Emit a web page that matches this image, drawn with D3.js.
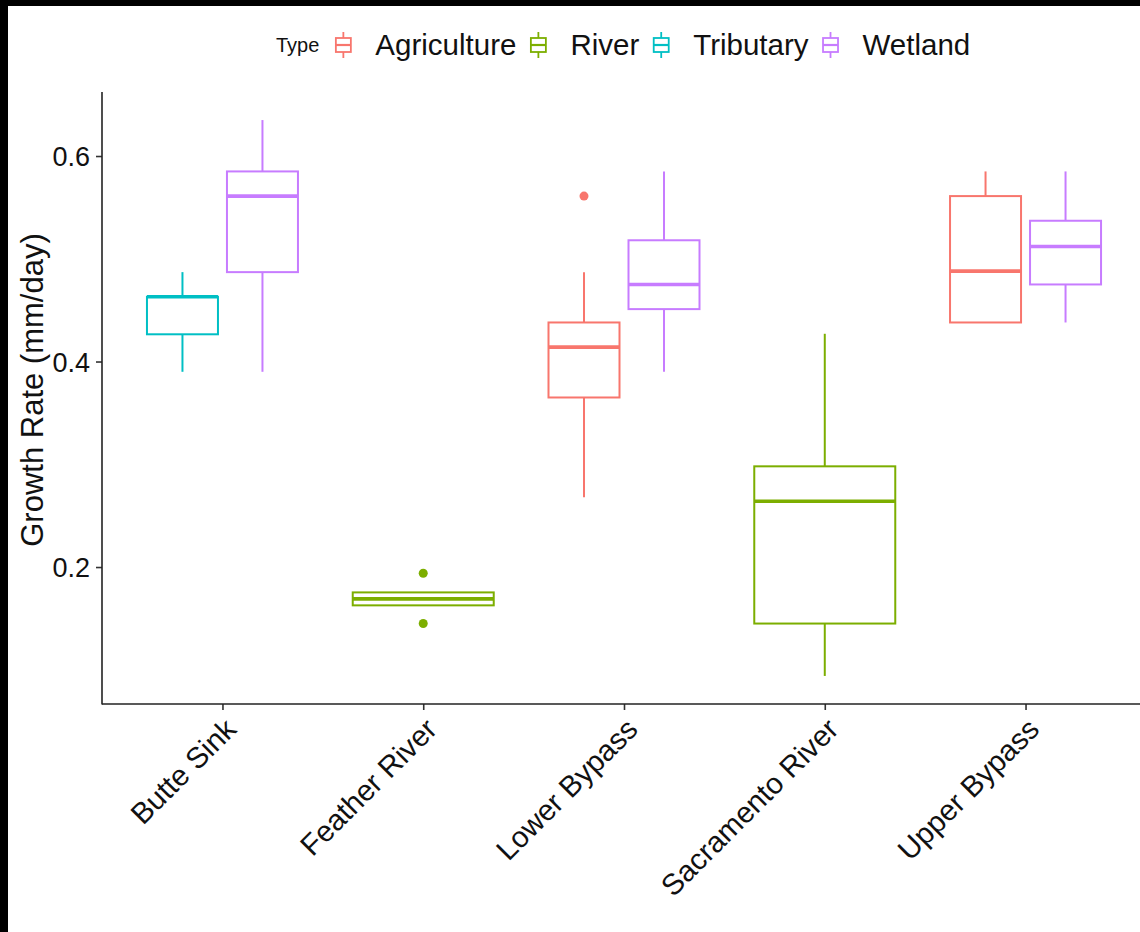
<!DOCTYPE html>
<html><head><meta charset="utf-8">
<script src="https://cdn.jsdelivr.net/npm/d3@7"></script>
<style>html,body{margin:0;padding:0;background:#fff;} svg{display:block;} text{font-family:"Liberation Sans",Arial,sans-serif;}</style>
</head><body>
<script>
// ---- data ----
const sites = ["Butte Sink","Feather River","Lower Bypass","Sacramento River","Upper Bypass"];
const types = ["Agriculture","River","Tributary","Wetland"];
const typeColors = ["#F8766D","#7CAE00","#00BFC4","#C77CFF"];
const yTicks = [0.2,0.4,0.6];

const boxSite  = ["Butte Sink","Butte Sink","Feather River","Lower Bypass","Lower Bypass","Sacramento River","Upper Bypass","Upper Bypass"];
const boxType  = ["Tributary","Wetland","River","Agriculture","Wetland","River","Agriculture","Wetland"];
const whiskLo  = [0.390,0.390,0.1627,0.268,0.390,0.094,0.438,0.438];
const q1       = [0.4265,0.487,0.1627,0.365,0.451,0.145,0.438,0.475];
const medianV  = [0.463,0.561,0.169,0.414,0.475,0.264,0.488,0.512];
const q3       = [0.463,0.585,0.1753,0.438,0.518,0.298,0.561,0.537];
const whiskHi  = [0.487,0.635,0.1753,0.487,0.585,0.427,0.585,0.585];
const outSite  = ["Feather River","Feather River","Lower Bypass"];
const outType  = ["River","River","Agriculture"];
const outVal   = [0.194,0.145,0.561];

// ---- layout ----
const W = 1140, H = 932;
const svg = d3.select("body").append("svg").attr("width",W).attr("height",H);
svg.append("rect").attr("width",W).attr("height",H).attr("fill","#fff");
// black frame strips from the reference image
svg.append("rect").attr("x",0).attr("y",0).attr("width",W).attr("height",6).attr("fill","#000");
svg.append("rect").attr("x",0).attr("y",0).attr("width",8).attr("height",H).attr("fill","#000");

const pLeft = 102, pBottom = 704, pTop = 92;
const x = d3.scalePoint().domain(sites).range([pLeft, 1146]).padding(0.6);
const y = d3.scaleLinear().domain([0.0667, 0.6623]).range([pBottom, pTop]);
const color = d3.scaleOrdinal().domain(types).range(typeColors);

function subScale(site){
  const ts = boxType.filter((t,i)=>boxSite[i]===site);
  const n = ts.length;
  return d3.scaleBand().domain(ts).range(n>1?[-75.5,75.5]:[-70.5,70.5]).paddingInner(n>1?0.1125:0);
}

// axes
const yAxis = d3.axisLeft(y).tickValues(yTicks).tickFormat(d3.format(".1f")).tickSize(6).tickPadding(6);
const gy = svg.append("g").attr("transform",`translate(${pLeft},0)`).call(yAxis);
gy.select(".domain").remove();
gy.append("line").attr("x1",0).attr("x2",0).attr("y1",pTop).attr("y2",pBottom+0.5).attr("stroke","#222").attr("stroke-width",1.6);
gy.selectAll(".tick line").attr("stroke","#333").attr("stroke-width",1.6);
gy.selectAll(".tick text").attr("font-size",27).attr("fill","#111").attr("dy","0.36em");

const xAxis = d3.axisBottom(x).tickSize(6).tickPadding(0);
const gx = svg.append("g").attr("transform",`translate(0,${pBottom})`).call(xAxis);
gx.select(".domain").remove();
gx.append("line").attr("x1",pLeft).attr("x2",W).attr("y1",0).attr("y2",0).attr("stroke","#222").attr("stroke-width",1.6);
gx.selectAll(".tick line").attr("stroke","#333").attr("stroke-width",1.6);
gx.selectAll(".tick text")
  .attr("font-size",29.5).attr("fill","#111")
  .attr("text-anchor","end").attr("dy","0.72em").attr("y",0)
  .attr("transform","translate(0,12) rotate(-45)");

// y axis title
svg.append("text").attr("transform",`translate(43,${(pTop+pBottom)/2-8}) rotate(-90)`)
  .attr("text-anchor","middle").attr("font-size",31).attr("fill","#111").text("Growth Rate (mm/day)");

// boxes
const plot = svg.append("g");
const boxes = boxSite.map((s,i)=>({site:s,type:boxType[i],lo:whiskLo[i],q1:q1[i],med:medianV[i],q3:q3[i],hi:whiskHi[i]}));
boxes.forEach(b=>{
  const sub = subScale(b.site);
  const x0 = x(b.site) + sub(b.type), bw = sub.bandwidth(), cx = x0 + bw/2;
  const c = color(b.type);
  const g = plot.append("g");
  if (b.hi > b.q3) g.append("line").attr("x1",cx).attr("x2",cx).attr("y1",y(b.q3)).attr("y2",y(b.hi)).attr("stroke",c).attr("stroke-width",2);
  if (b.lo < b.q1) g.append("line").attr("x1",cx).attr("x2",cx).attr("y1",y(b.q1)).attr("y2",y(b.lo)).attr("stroke",c).attr("stroke-width",2);
  g.append("rect").attr("x",x0).attr("y",y(b.q3)).attr("width",bw).attr("height",y(b.q1)-y(b.q3))
    .attr("fill","#fff").attr("stroke",c).attr("stroke-width",2);
  g.append("line").attr("x1",x0).attr("x2",x0+bw).attr("y1",y(b.med)).attr("y2",y(b.med)).attr("stroke",c).attr("stroke-width",3.6);
});
outVal.forEach((v,i)=>{
  const sub = subScale(outSite[i]);
  const cx = x(outSite[i]) + sub(outType[i]) + sub.bandwidth()/2;
  plot.append("circle").attr("cx",cx).attr("cy",y(v)).attr("r",4.5).attr("fill",color(outType[i]));
});

// legend
const lg = svg.append("g");
let cur = 276;
const lt = lg.append("text").attr("x",cur).attr("y",52).attr("font-size",20).attr("fill","#111").text("Type");
cur += lt.node().getComputedTextLength() + 24;
types.forEach(t=>{
  const c = color(t), kc = cur;
  lg.append("line").attr("x1",kc).attr("x2",kc).attr("y1",32).attr("y2",58).attr("stroke",c).attr("stroke-width",1.8);
  lg.append("rect").attr("x",kc-7.5).attr("y",38).attr("width",15).attr("height",14).attr("fill","#fff").attr("stroke",c).attr("stroke-width",1.8);
  lg.append("line").attr("x1",kc-7.5).attr("x2",kc+7.5).attr("y1",45).attr("y2",45).attr("stroke",c).attr("stroke-width",2.2);
  const tx = lg.append("text").attr("x",kc+32).attr("y",55).attr("font-size",29.5).attr("fill","#111").text(t);
  cur = kc + 32 + tx.node().getComputedTextLength() + 22;
});
</script>
</body></html>
